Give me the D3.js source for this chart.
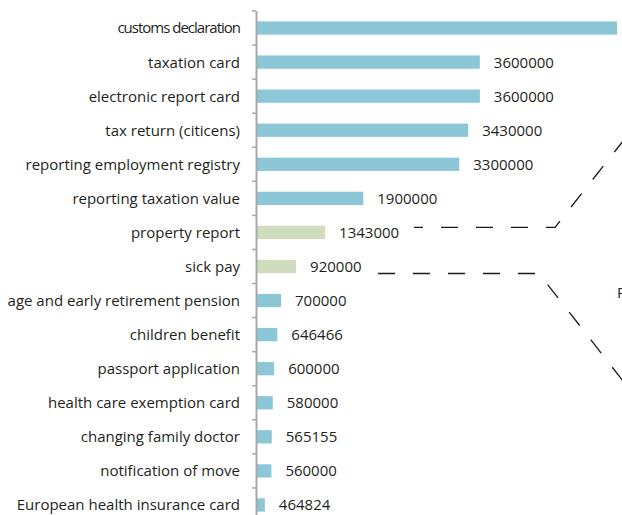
<!DOCTYPE html>
<html>
<head>
<meta charset="utf-8">
<script src="https://cdn.jsdelivr.net/npm/d3@7"></script>
<style>
  html, body { margin: 0; padding: 0; background: #fff; }
  svg { display: block; }
</style>
</head>
<body>
<div id="chart"></div>
<script>
const Width = 622;
const Height = 515;

const categories = [
    'customs declaration',
    'taxation card',
    'electronic report card',
    'tax return (citicens)',
    'reporting employment registry',
    'reporting taxation value',
    'property report',
    'sick pay',
    'age and early retirement pension',
    'children benefit',
    'passport application',
    'health care exemption card',
    'changing family doctor',
    'notification of move',
    'European health insurance card',
];
const values = [
    5600000, 3600000, 3600000, 3430000, 3300000, 1900000, 1343000, 920000,
    700000, 646466, 600000, 580000, 565155, 560000, 464824,
];
// rows that get the green colour and the dashed leader lines
const highlighted = ['property report', 'sick pay'];
const xDomain = [350000, 5600000];

const Axis = { X: 257, Top: 11, Bottom: 522 };
const FontSize = 15;
const Color = {
    Bar: '#8cc7d8',
    Highlight: '#cfdcbd',
    Text: '#231f20',
    Axis: '#a8a8a8',
};

const svg = d3.select('#chart')
    .append('svg')
    .attr('width', Width)
    .attr('height', Height)
    .attr('font-family', '"Open Sans", sans-serif');

const x = d3.scaleLinear().domain(xDomain).range([Axis.X, 617]);
const y = d3.scaleBand()
    .domain(categories)
    .range([Axis.Top, Axis.Bottom])
    .paddingInner(0.61)
    .paddingOuter(0.305);

const rows = categories.map((c, i) => ({ name: c, value: values[i] }));

// bars
svg.append('g')
    .selectAll('rect')
    .data(rows)
    .join('rect')
    .attr('x', Axis.X)
    .attr('y', d => y(d.name))
    .attr('width', d => x(d.value) - Axis.X)
    .attr('height', y.bandwidth())
    .attr('fill', d => (highlighted.includes(d.name) ? Color.Highlight : Color.Bar));

// value labels; the longest bar's label falls outside the picture, so skip it
svg.append('g')
    .attr('font-size', FontSize)
    .attr('fill', Color.Text)
    .selectAll('text')
    .data(rows.filter(d => x(d.value) + 14 < Width - 60))
    .join('text')
    .attr('x', d => x(d.value) + 14)
    .attr('y', d => y(d.name) + y.bandwidth() / 2)
    .attr('dy', '0.36em')
    .text(d => d.value);

// category axis
const step = y.step();
const tickYs = d3.range(categories.length + 1).map(i => Axis.Top + i * step);

const axis = svg.append('g');
axis.append('line')
    .attr('x1', Axis.X - 0.5)
    .attr('x2', Axis.X - 0.5)
    .attr('y1', Axis.Top)
    .attr('y2', Height)
    .attr('stroke', Color.Axis)
    .attr('stroke-width', 2);
axis.selectAll('.tick')
    .data(tickYs)
    .join('line')
    .attr('class', 'tick')
    .attr('x1', Axis.X - 5)
    .attr('x2', Axis.X - 1)
    .attr('y1', d => d)
    .attr('y2', d => d)
    .attr('stroke', Color.Axis)
    .attr('stroke-width', 1.5);

axis.selectAll('.label')
    .data(rows)
    .join('text')
    .attr('class', 'label')
    .attr('x', 240)
    .attr('y', d => y(d.name) + y.bandwidth() / 2)
    .attr('dy', '0.36em')
    .attr('text-anchor', 'end')
    .attr('font-size', FontSize)
    .attr('letter-spacing', d => (d.name === 'customs declaration' ? '-1px' : null))
    .attr('fill', Color.Text)
    .text(d => d.name);

// dashed leader lines towards the (cropped) breakdown on the right
const leaders = [
    { name: 'property report', start: 414, bend: 555, dy: -5, slope: -1.27, offset: 8 },
    { name: 'sick pay', start: 378, bend: 539, dy: 7, slope: 1.28, offset: 0 },
];
svg.append('g')
    .attr('fill', 'none')
    .attr('stroke', '#1a1a1a')
    .attr('stroke-width', 1.3)
    .attr('stroke-dasharray', '17,18')
    .selectAll('path')
    .data(leaders)
    .join('path')
    .attr('stroke-dashoffset', d => d.offset)
    .attr('d', d => {
        const yy = y(d.name) + y.bandwidth() / 2 + d.dy;
        return d3.line()([
            [d.start, yy],
            [d.bend, yy],
            [Width + 10, yy + (Width + 10 - d.bend) * d.slope],
        ]);
    });

// edge of the cropped pie label on the right
svg.append('text')
    .attr('x', 617)
    .attr('y', 298)
    .attr('font-size', FontSize)
    .attr('fill', Color.Text)
    .text('P');
</script>
</body>
</html>
